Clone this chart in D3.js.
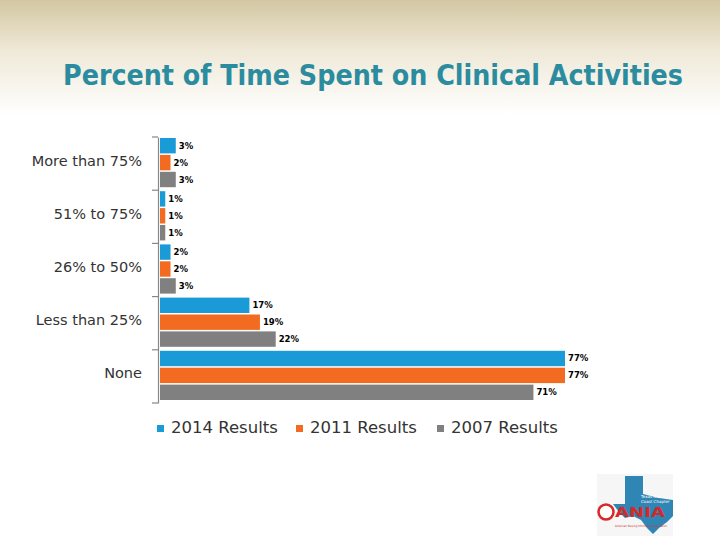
<!DOCTYPE html>
<html>
<head>
  <meta charset="UTF-8">
  <style>
    body { margin: 0; background: #fff; }
    svg { display: block; }
    .cat { font-family: "DejaVu Sans", sans-serif; font-size: 14.5px; fill: #333; }
    .val { font-family: "DejaVu Sans", sans-serif; font-size: 8.5px; font-weight: bold; fill: #000; }
    .leg { font-family: "DejaVu Sans", sans-serif; font-size: 16.5px; fill: #333; }
  </style>
</head>
<body>
<svg id="chart"></svg>
<script src="https://d3js.org/d3.v7.min.js"></script>
<script>

// data
var categories = ["More than 75%", "51% to 75%", "26% to 50%", "Less than 25%", "None"];
var seriesNames = ["2014 Results", "2011 Results", "2007 Results"];
var values2014 = [3, 1, 2, 17, 77];
var values2011 = [2, 1, 2, 19, 77];
var values2007 = [3, 1, 3, 22, 71];
var colors = ["#1a9bd7", "#f26b21", "#808080"];

let width = 720, height = 540;

let svg = d3.select("#chart")
    .attr("width", width)
    .attr("height", height);

// header background gradient
let defs = svg.append("defs");
let grad = defs.append("linearGradient")
    .attr("id", "head").attr("x1", "0%").attr("y1", "0%").attr("x2", "0%").attr("y2", "100%");
grad.append("stop").attr("offset", "0%").attr("stop-color", "#d3c7a3");
grad.append("stop").attr("offset", "45%").attr("stop-color", "#efe9d8");
grad.append("stop").attr("offset", "100%").attr("stop-color", "#ffffff");

svg.append("rect")
    .attr("x", 0).attr("y", 0).attr("width", width).attr("height", 115)
    .attr("fill", "url(#head)");

svg.append("text")
    .attr("x", 63).attr("y", 85)
    .attr("textLength", 620)
    .attr("lengthAdjust", "spacingAndGlyphs")
    .style("font-family", "'DejaVu Sans Condensed', 'DejaVu Sans', sans-serif")
    .style("font-weight", "bold")
    .style("font-size", "28px")
    .style("fill", "#2a8c9e")
    .text("Percent of Time Spent on Clinical Activities");

// scales
let x = d3.scaleLinear().domain([0, 77]).range([160, 565]);

let y = d3.scaleBand()
    .domain(categories)
    .range([137, 403])
    .paddingInner(0)
    .paddingOuter(0);

let yInner = d3.scaleBand()
    .domain(seriesNames)
    .range([1, y.bandwidth() - 3])
    .paddingInner(0.09);

// axis
let axis = d3.axisLeft(y).tickSize(0).tickFormat("");
let axisG = svg.append("g")
    .attr("transform", "translate(158,0)")
    .call(axis);
axisG.select(".domain").attr("stroke", "#888").attr("stroke-width", 1.2);

// ticks between categories
let tickYs = categories.map(c => y(c)).concat([y(categories[categories.length - 1]) + y.bandwidth()]);
svg.append("g").selectAll("line")
    .data(tickYs)
    .enter()
    .append("line")
    .attr("x1", 152).attr("x2", 158)
    .attr("y1", d => d).attr("y2", d => d)
    .attr("stroke", "#888").attr("stroke-width", 1.2);

// category labels
svg.append("g").selectAll("text")
    .data(categories)
    .enter()
    .append("text")
    .attr("class", "cat")
    .attr("x", 142)
    .attr("y", d => y(d) + y.bandwidth() / 2 + 2)
    .attr("text-anchor", "end")
    .text(d => d);

// bars
let allSeries = [values2014, values2011, values2007];
let rows = [];
categories.forEach((c, i) => {
    seriesNames.forEach((s, j) => {
        rows.push({ cat: c, series: s, value: allSeries[j][i], color: colors[j] });
    });
});

let barG = svg.append("g");
barG.selectAll("rect")
    .data(rows)
    .enter()
    .append("rect")
    .attr("x", x(0))
    .attr("y", d => y(d.cat) + yInner(d.series))
    .attr("width", d => x(d.value) - x(0))
    .attr("height", yInner.bandwidth())
    .attr("fill", d => d.color);

barG.selectAll("text")
    .data(rows)
    .enter()
    .append("text")
    .attr("class", "val")
    .attr("x", d => x(d.value) + 3)
    .attr("y", d => y(d.cat) + yInner(d.series) + yInner.bandwidth() / 2 + 3)
    .text(d => d.value + "%");

// legend
let legendX = [157, 296, 437];
let leg = svg.append("g").selectAll("g")
    .data(seriesNames)
    .enter()
    .append("g")
    .attr("transform", (d, i) => "translate(" + legendX[i] + ",427)");
leg.append("rect")
    .attr("x", 0).attr("y", -2).attr("width", 7).attr("height", 7)
    .attr("fill", (d, i) => colors[i]);
leg.append("text")
    .attr("class", "leg")
    .attr("x", 14).attr("y", 6)
    .text(d => d);

// logo in corner (approximation)
let logo = svg.append("g").attr("transform", "translate(597,474)");
logo.append("rect")
    .attr("x", 0).attr("y", 0).attr("width", 76).attr("height", 62)
    .attr("fill", "#f6f6f6");
logo.append("path")
    .attr("d", "M28,2 L46,2 L46,20 L62,24 L76,26 L76,42 L70,48 L62,54 L56,60 L50,54 L44,46 L36,42 L28,44 L22,38 L16,30 L28,30 Z")
    .attr("fill", "#2f86b5");
logo.append("text")
    .attr("x", 44).attr("y", 24)
    .style("font-family", "'DejaVu Sans', sans-serif")
    .style("font-size", "4px")
    .style("fill", "#fff")
    .text("Texas Gulf");
logo.append("text")
    .attr("x", 44).attr("y", 29)
    .style("font-family", "'DejaVu Sans', sans-serif")
    .style("font-size", "4px")
    .style("fill", "#fff")
    .text("Coast Chapter");
logo.append("circle")
    .attr("cx", 9).attr("cy", 38).attr("r", 7.5)
    .attr("fill", "#fff").attr("stroke", "#d62828").attr("stroke-width", 2.5);
logo.append("text")
    .attr("x", 18).attr("y", 43)
    .attr("textLength", 50)
    .attr("lengthAdjust", "spacingAndGlyphs")
    .style("font-family", "'DejaVu Sans', sans-serif")
    .style("font-weight", "bold")
    .style("font-size", "14px")
    .style("fill", "#d62828")
    .text("ANIA");
logo.append("text")
    .attr("x", 18).attr("y", 53)
    .attr("textLength", 52)
    .attr("lengthAdjust", "spacingAndGlyphs")
    .style("font-family", "'DejaVu Sans', sans-serif")
    .style("font-size", "3px")
    .style("fill", "#d62828")
    .text("American Nursing Informatics Association");

</script>
</body>
</html>
